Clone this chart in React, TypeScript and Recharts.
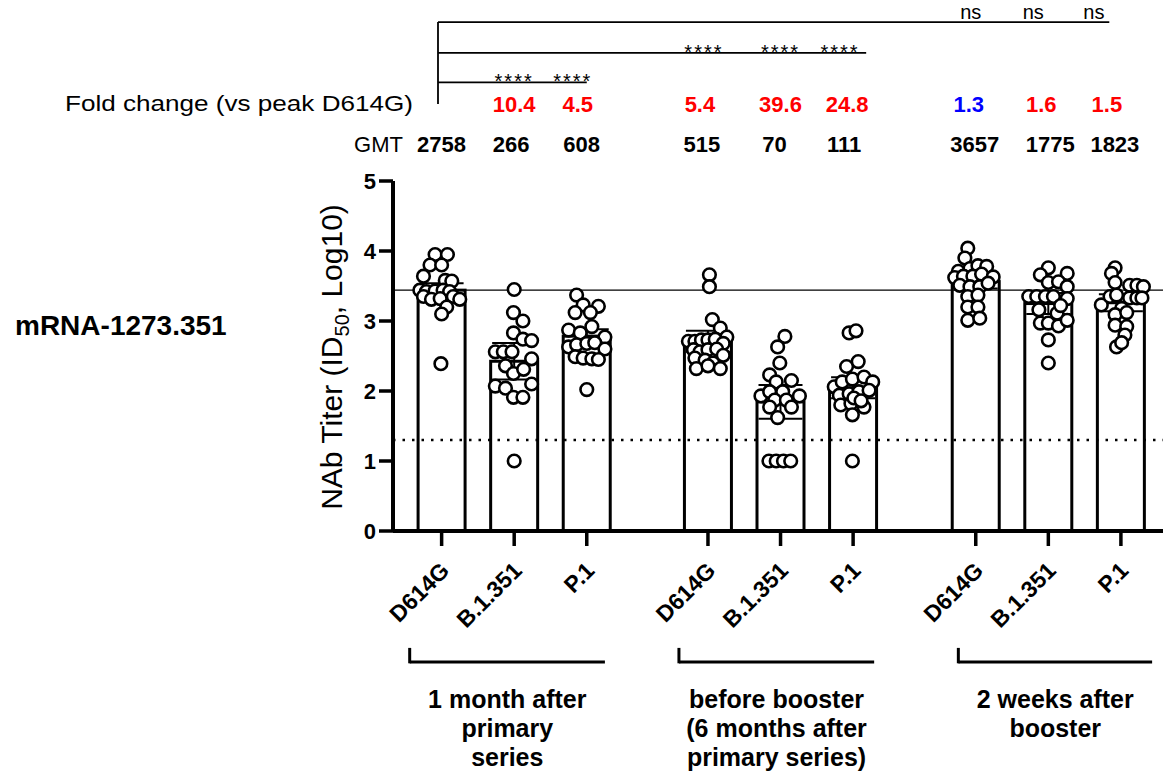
import React from "react";
import {
  ComposedChart,
  Bar,
  Scatter,
  XAxis,
  YAxis,
  ReferenceLine,
  ErrorBar,
  LabelList,
  Customized,
} from "recharts";

// ---- data ----
const variants = ["D614G", "B.1.351", "P.1"];
const timepoints = [
  ["1 month after", "primary", "series"],
  ["before booster", "(6 months after", "primary series)"],
  ["2 weeks after", "booster"],
];
const gmt = [2758, 266, 608, 515, 70, 111, 3657, 1775, 1823];
const gmtError = [0.1, 0.26, 0.1, 0.15, 0.24, 0.15, 0.1, 0.15, 0.12];
const foldChange = [null, 10.4, 4.5, 5.4, 39.6, 24.8, 1.3, 1.6, 1.5];
const significance = ["", "****", "****", "****", "****", "****", "ns", "ns", "ns"];
const limitOfDetection = 1.3;

// individual titers per bar: [jitter (fraction of slot), log10 titer]
const titers1mD614G = [
  [-0.09, 3.95], [0.08, 3.95], [-0.16, 3.8], [0, 3.8], [-0.25, 3.64], [0.05, 3.58], [0.14, 3.57],
  [-0.3, 3.44], [-0.21, 3.42], [-0.09, 3.43], [0.02, 3.44], [0.11, 3.42], [-0.25, 3.35], [-0.14, 3.31],
  [-0.02, 3.32], [0.16, 3.35], [0.25, 3.31], [0.07, 3.2], [0, 3.1], [-0.01, 2.39],
];
const titers1mB1351 = [
  [0, 3.45], [-0.01, 3.12], [0.12, 3.0], [-0.01, 2.83], [0.12, 2.74], [0.24, 2.72], [-0.26, 2.56],
  [-0.15, 2.56], [-0.03, 2.56], [0.24, 2.46], [-0.12, 2.36], [-0.01, 2.25], [0.13, 2.31], [-0.26, 2.07],
  [-0.12, 2.04], [0.24, 2.1], [-0.01, 1.91], [0.12, 1.91], [0, 1.0],
];
const titers1mP1 = [
  [-0.14, 3.37], [-0.05, 3.23], [0.16, 3.21], [-0.16, 3.12], [0.05, 3.12], [0.07, 2.92], [-0.25, 2.87],
  [-0.09, 2.83], [0.25, 2.77], [-0.25, 2.63], [-0.14, 2.66], [0, 2.68], [0.11, 2.69], [0.25, 2.6],
  [-0.16, 2.49], [-0.05, 2.47], [0.07, 2.46], [0.16, 2.45], [0, 2.02],
];
const titers6mD614G = [
  [0.02, 3.66], [0.02, 3.49], [0.06, 3.02], [0.17, 2.9], [0.26, 2.77], [-0.27, 2.71], [-0.18, 2.71],
  [-0.09, 2.73], [0, 2.73], [0.1, 2.74], [0.21, 2.68], [-0.2, 2.59], [-0.11, 2.56], [0, 2.59],
  [0.12, 2.6], [0.21, 2.51], [-0.18, 2.47], [-0.04, 2.44], [0.07, 2.4], [-0.16, 2.32], [0, 2.36], [0.17, 2.32],
];
const titers6mB1351 = [
  [0.06, 2.78], [-0.04, 2.63], [-0.01, 2.4], [-0.15, 2.23], [-0.06, 2.13], [0.15, 2.15], [-0.27, 1.93],
  [-0.15, 1.99], [0.03, 1.99], [0.26, 1.93], [-0.08, 1.87], [0.08, 1.87], [-0.15, 1.77], [0.15, 1.77],
  [-0.04, 1.62], [-0.16, 1.0], [-0.06, 1.0], [0.04, 1.0], [0.14, 1.0],
];
const titers6mP1 = [
  [-0.055, 2.83], [0.04, 2.86], [-0.09, 2.35], [0.07, 2.42], [-0.26, 2.06], [-0.15, 2.13], [-0.01, 2.17],
  [0.15, 2.2], [0.27, 2.13], [-0.19, 1.94], [-0.055, 1.96], [0.08, 1.99], [0.22, 2.01], [-0.17, 1.8],
  [-0.03, 1.82], [0.15, 1.77], [-0.01, 1.66], [-0.01, 1.0], [0.01, 1.9], [0.11, 1.86],
];
const titers2wD614G = [
  [-0.11, 4.04], [-0.15, 3.9], [-0.24, 3.71], [-0.08, 3.75], [0.03, 3.79], [0.15, 3.78], [-0.29, 3.62],
  [-0.17, 3.64], [-0.04, 3.64], [0.08, 3.67], [0.24, 3.63], [-0.22, 3.51], [-0.08, 3.49], [0.055, 3.49],
  [0.17, 3.54], [-0.11, 3.35], [0.03, 3.37], [-0.11, 3.2], [0.03, 3.2], [-0.11, 3.01], [0.055, 3.04],
];
const titers2wB1351 = [
  [0, 3.76], [-0.11, 3.66], [0.26, 3.68], [0, 3.55], [0.14, 3.56], [0.26, 3.49], [-0.27, 3.35],
  [-0.16, 3.35], [-0.04, 3.35], [0.07, 3.35], [0.26, 3.32], [-0.13, 3.16], [0.12, 3.11], [-0.11, 2.97],
  [0, 2.97], [0.14, 2.93], [0.26, 3.01], [0, 2.73], [0, 2.4], [0.17, 3.22],
];
const titers2wP1 = [
  [-0.08, 3.76], [-0.13, 3.68], [-0.08, 3.55], [0.12, 3.51], [0.22, 3.51], [0.31, 3.49], [-0.27, 3.23],
  [-0.15, 3.35], [-0.06, 3.37], [0.12, 3.33], [0.22, 3.33], [0.29, 3.33], [0.01, 3.18], [-0.08, 3.09],
  [0.08, 3.12], [-0.08, 2.94], [0.08, 2.92], [0.055, 2.8], [-0.06, 2.63], [0.01, 2.69],
];
const titers = [
  titers1mD614G, titers1mB1351, titers1mP1,
  titers6mD614G, titers6mB1351, titers6mP1,
  titers2wD614G, titers2wB1351, titers2wP1,
];

// ---- layout ----
const FONT = "'Liberation Sans', Arial, Helvetica, sans-serif";
const SLOT_X = [1, 2, 3, 4.67, 5.67, 6.67, 8.36, 9.36, 10.36];
const X_DOMAIN = [0.33, 10.94];
const BAR_W = 47;
const SIG_LINES = [
  { y: 6.41, x2: 3.0, textY: 88 },
  { y: 6.83, x2: 6.85, textY: 59 },
  { y: 7.27, x2: 10.2, textY: 19 },
];
const SIG_X1 = 0.95;
const BRACKETS = [
  { x1: 0.56, x2: 3.25 },
  { x1: 4.27, x2: 6.96 },
  { x1: 8.12, x2: 10.79 },
];
const SIG_SHIFT = [0, 0, -14, -4, 0, -13, -5, -15, -27];
const FOLD_SHIFT = [0, 0, -9, -8, 0, -6, -7, -7, -14];
const GMT_SHIFT = [0, -3, -5, -6, -6, -9, -1, 2, -6];

const peakLog = Math.log10(gmt[0]);

const barData = gmt.map((g, i) => ({
  x: SLOT_X[i],
  lg: Math.log10(g),
  err: gmtError[i],
  i,
}));

const pointData = titers.flatMap((pts, i) =>
  pts.map(([j, v]) => ({ x: SLOT_X[i] + j, y: v }))
);

const centerOf = (p: any) => {
  const vb = p.viewBox && p.viewBox.width !== undefined ? p.viewBox : p;
  return vb.x + (vb.width || 0) / 2;
};
const indexOf = (p: any) => (p.value !== undefined ? p.value : p.index);

const BarShape = (p: any) => {
  const cx = p.x + (p.width || 0) / 2;
  return (
    <rect x={cx - BAR_W / 2} y={p.y} width={BAR_W} height={Math.max(p.height, 0)}
      fill="#fff" stroke="#000" strokeWidth={3} />
  );
};

const GmtLabel = (p: any) => {
  const i = indexOf(p);
  return (
    <text x={centerOf(p) + GMT_SHIFT[i]} y={152} textAnchor="middle" fontSize={22}
      fontWeight={700} fontFamily={FONT} fill="#000">
      {gmt[i]}
    </text>
  );
};

const FoldLabel = (p: any) => {
  const i = indexOf(p);
  if (foldChange[i] == null) return null;
  const color = gmt[i] > gmt[0] ? "#0000ff" : "#ff0000";
  return (
    <text x={centerOf(p) + FOLD_SHIFT[i]} y={112} textAnchor="middle" fontSize={22}
      fontWeight={700} fontFamily={FONT} fill={color}>
      {foldChange[i].toFixed(1)}
    </text>
  );
};

const SigLabel = (p: any) => {
  const i = indexOf(p);
  if (!significance[i]) return null;
  const g = Math.floor(i / 3);
  const stars = significance[i] !== "ns";
  return (
    <text x={centerOf(p) + SIG_SHIFT[i]} y={SIG_LINES[g].textY} textAnchor="middle"
      fontSize={20} letterSpacing={stars ? 2 : 0} fontFamily={FONT} fill="#000">
      {significance[i]}
    </text>
  );
};

const VariantTick = (props: any) => {
  const { x, y, payload } = props;
  const i = SLOT_X.indexOf(payload.value);
  return (
    <text x={0} y={0} transform={`translate(${x + 9},${y + 24}) rotate(-45)`}
      textAnchor="end" fontSize={23} fontWeight={700} fontFamily={FONT} fill="#000">
      {variants[(i < 0 ? 0 : i) % 3]}
    </text>
  );
};

const groupLabel = (g: number) => (p: any) => {
  const vb = p.viewBox || {};
  const cx = vb.x + (vb.width || 0) / 2;
  return (
    <text textAnchor="middle" fontSize={25} fontWeight={700} fontFamily={FONT} fill="#000">
      {timepoints[g].map((line, k) => (
        <tspan key={k} x={cx} y={vb.y + 46 + k * 29}>{line}</tspan>
      ))}
    </text>
  );
};

const SideTexts = () => (
  <g fontFamily={FONT} fill="#000">
    <text x={413} y={111} textAnchor="end" fontSize={22} textLength={348}
      lengthAdjust="spacingAndGlyphs">
      Fold change (vs peak D614G)
    </text>
    <text x={403} y={152} textAnchor="end" fontSize={22}>GMT</text>
    <text x={15} y={335} fontSize={28} fontWeight={700}>mRNA-1273.351</text>
    <text transform="translate(342,357) rotate(-90)" textAnchor="middle" fontSize={30}>
      NAb Titer (ID<tspan fontSize={20} dy={7}>50</tspan>
      <tspan dy={-7}>,  Log10)</tspan>
    </text>
  </g>
);

export default function App() {
  return (
    <div style={{ position: "absolute", left: 0, top: 0, background: "#fff" }}>
      <ComposedChart
        width={1166}
        height={771}
        data={barData}
        margin={{ top: 181, right: 3, bottom: 0, left: 0 }}
      >
        <XAxis
          type="number"
          dataKey="x"
          domain={X_DOMAIN}
          allowDataOverflow
          ticks={SLOT_X}
          interval={0}
          height={240}
          tickSize={15}
          axisLine={{ stroke: "#000", strokeWidth: 4 }}
          tickLine={{ stroke: "#000", strokeWidth: 3.5 }}
          tick={<VariantTick />}
        />
        <YAxis
          type="number"
          domain={[0, 5]}
          allowDataOverflow
          ticks={[0, 1, 2, 3, 4, 5]}
          width={393}
          tickSize={14}
          tickMargin={3}
          axisLine={{ stroke: "#000", strokeWidth: 4 }}
          tickLine={{ stroke: "#000", strokeWidth: 3.5 }}
          tick={{ fontSize: 22, fontWeight: 700, fill: "#000", fontFamily: FONT }}
        />
        <Bar dataKey="lg" barSize={BAR_W} shape={<BarShape />} isAnimationActive={false}>
          <ErrorBar dataKey="err" direction="y" width={22} stroke="#000" strokeWidth={2} />
          <LabelList dataKey="i" content={GmtLabel} />
          <LabelList dataKey="i" content={FoldLabel} />
          <LabelList dataKey="i" content={SigLabel} />
        </Bar>
        <ReferenceLine y={peakLog} stroke="#000" strokeWidth={1.4} />
        <ReferenceLine y={limitOfDetection} stroke="#000" strokeWidth={2.5}
          strokeDasharray="2.5 7" />
        {SIG_LINES.map((s, k) => (
          <ReferenceLine key={`sig${k}`} ifOverflow="visible" stroke="#000" strokeWidth={1.8}
            segment={[{ x: SIG_X1, y: s.y }, { x: s.x2, y: s.y }]} />
        ))}
        <ReferenceLine ifOverflow="visible" stroke="#000" strokeWidth={1.8}
          segment={[{ x: SIG_X1, y: SIG_LINES[2].y }, { x: SIG_X1, y: 6.1 }]} />
        {BRACKETS.map((b, g) => (
          <ReferenceLine key={`bv${g}`} ifOverflow="visible" stroke="#000" strokeWidth={3}
            segment={[{ x: b.x1, y: -1.67 }, { x: b.x1, y: -1.89 }]} />
        ))}
        {BRACKETS.map((b, g) => (
          <ReferenceLine key={`bh${g}`} ifOverflow="visible" stroke="#000" strokeWidth={3}
            segment={[{ x: b.x1, y: -1.87 }, { x: b.x2, y: -1.87 }]}
            label={{ content: groupLabel(g) }} />
        ))}
        <Scatter
          data={pointData}
          dataKey="y"
          isAnimationActive={false}
          shape={(p: any) => (
            <circle cx={p.cx} cy={p.cy} r={6.3} fill="#fff" stroke="#000" strokeWidth={2.6} />
          )}
        />
        <Customized component={<SideTexts />} />
      </ComposedChart>
    </div>
  );
}
